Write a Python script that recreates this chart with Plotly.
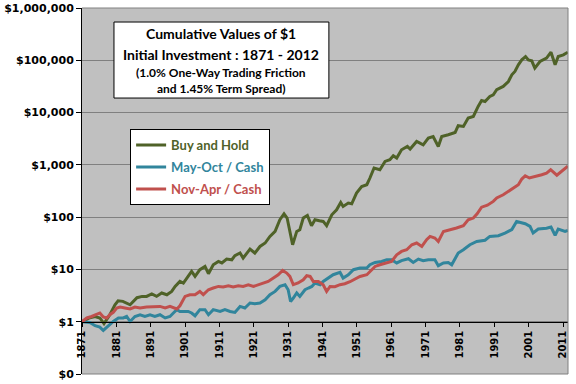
import plotly.graph_objects as go

# ---------------- data ----------------
bh_years = [1871.0, 1873.3, 1874.8, 1876.2, 1877.4, 1879.1, 1880.6, 1881.5, 1882.9, 1885.0,
            1887.0, 1888.5, 1889.8, 1891.3, 1892.7, 1894.2, 1895.7, 1897.1, 1898.1, 1899.5,
            1900.5, 1901.5, 1902.9, 1903.9, 1905.3, 1906.8, 1907.8, 1909.2, 1910.7, 1911.7,
            1913.1, 1914.6, 1915.5, 1917.0, 1917.9, 1919.9, 1921.3, 1922.8, 1924.3, 1925.7,
            1927.2, 1928.6, 1929.8, 1930.7, 1931.5, 1932.3, 1933.5, 1934.4, 1935.4, 1936.6,
            1937.8, 1938.8, 1940.1, 1941.2, 1942.2, 1943.7, 1945.1, 1946.3, 1947.0, 1948.5,
            1949.5, 1950.9, 1952.4, 1953.9, 1954.8, 1956.0, 1957.7, 1959.2, 1960.6, 1961.6,
            1962.6, 1964.0, 1965.7, 1966.5, 1968.4, 1970.3, 1971.8, 1973.2, 1974.7, 1975.7,
            1977.6, 1979.6, 1980.5, 1982.0, 1983.4, 1984.9, 1986.3, 1987.3, 1988.3, 1989.7,
            1990.7, 1991.7, 1993.6, 1995.1, 1996.1, 1997.0, 1998.0, 1999.0, 2000.1, 2000.9,
            2001.9, 2002.8, 2004.3, 2006.2, 2007.5, 2008.7, 2009.6, 2011.1, 2012.4]
bh_values = [1.0, 1.19, 1.26, 1.18, 0.92, 1.36, 2.11, 2.52, 2.45, 2.11,
             2.88, 3.05, 3.05, 3.39, 3.05, 3.54, 3.28, 3.80, 4.73, 5.90,
             5.50, 6.85, 9.16, 7.35, 9.87, 11.4, 8.28, 12.3, 14.2, 13.3,
             15.8, 15.3, 18.3, 20.6, 16.5, 24.5, 20.6, 27.5, 32.0, 42.8,
             53.3, 89.2, 116, 96, 49.7, 29.7, 53.3, 57.4, 96, 108,
             68.5, 89.2, 85.4, 82.8, 68.5, 111, 138, 191, 160, 186,
             180, 289, 386, 417, 560, 869, 806, 1162, 1253, 1494,
             1350, 1945, 2250, 2005, 2800, 2420, 3250, 3490, 2250, 3490,
             3765, 4170, 5600, 5420, 7850, 8420, 13100, 17000, 16300, 20300,
             21900, 27300, 31600, 39300, 52800, 61100, 82000, 102000, 118000, 102000,
             97800, 71000, 94800, 110000, 143000, 82000, 118000, 127000, 143000]

mo_years = [1871.0, 1873.3, 1874.8, 1876.2, 1877.2, 1878.7, 1880.1, 1881.6, 1883.0, 1884.0,
            1885.0, 1886.4, 1887.9, 1889.3, 1890.8, 1892.2, 1893.7, 1895.2, 1896.6, 1897.6,
            1898.6, 1899.5, 1901.0, 1901.9, 1902.9, 1903.9, 1905.3, 1906.8, 1907.8, 1909.2,
            1911.2, 1912.6, 1914.1, 1915.5, 1917.0, 1918.4, 1919.9, 1921.3, 1922.8, 1924.3,
            1925.7, 1927.2, 1928.6, 1930.1, 1931.0, 1931.7, 1932.5, 1933.5, 1934.4, 1935.9,
            1936.9, 1937.9, 1938.8, 1940.3, 1941.2, 1942.7, 1943.2, 1944.1, 1946.1, 1947.0,
            1948.5, 1950.0, 1951.9, 1953.9, 1954.8, 1956.3, 1958.2, 1959.7, 1961.1, 1962.6,
            1964.0, 1966.0, 1967.4, 1968.9, 1970.3, 1971.8, 1973.7, 1974.7, 1976.2, 1977.6,
            1978.6, 1980.5, 1982.0, 1983.9, 1985.9, 1988.3, 1989.7, 1992.2, 1994.1, 1996.1,
            1997.5, 1998.5, 2000.0, 2001.4, 2002.3, 2003.8, 2006.2, 2007.5, 2008.7, 2009.6,
            2011.6, 2012.4]
mo_values = [1.0, 0.97, 0.84, 0.79, 0.68, 0.84, 1.01, 1.18, 1.18, 1.26,
             1.01, 1.26, 1.36, 1.26, 1.36, 1.26, 1.36, 1.18, 1.26, 1.47,
             1.70, 1.57, 1.57, 1.57, 1.47, 1.30, 1.70, 1.70, 1.36, 1.70,
             1.57, 1.70, 1.57, 1.51, 1.96, 1.83, 2.28, 2.21, 2.28, 2.63,
             3.28, 3.80, 4.73, 5.10, 4.09, 2.44, 2.84, 3.54, 3.05, 4.09,
             4.41, 4.73, 5.50, 5.10, 5.90, 6.85, 7.35, 7.92, 8.77, 6.85,
             7.92, 9.87, 10.6, 10.6, 12.3, 13.6, 14.2, 15.3, 15.3, 13.3,
             14.7, 16.0, 13.6, 15.8, 14.7, 15.3, 15.3, 11.8, 13.3, 13.6,
             12.3, 20.6, 23.8, 29.7, 34.3, 36.2, 42.8, 44.1, 49.7, 57.9,
             82.8, 79.2, 74.8, 66.4, 49.7, 59.2, 61.3, 64.7, 45.1, 59.2,
             53.3, 55.7]

na_years = [1871.0, 1872.4, 1873.8, 1875.3, 1876.2, 1877.2, 1878.2, 1879.1, 1880.1, 1881.1,
            1882.1, 1883.5, 1885.0, 1886.4, 1887.9, 1889.8, 1891.8, 1893.7, 1895.2, 1896.6,
            1898.6, 1899.5, 1901.0, 1902.4, 1903.9, 1905.3, 1906.3, 1907.8, 1909.2, 1910.7,
            1912.1, 1913.6, 1915.0, 1916.5, 1917.9, 1919.4, 1920.9, 1922.3, 1923.8, 1925.2,
            1926.7, 1928.1, 1929.4, 1930.6, 1931.5, 1932.5, 1933.9, 1935.4, 1936.4, 1937.4,
            1938.3, 1939.8, 1941.2, 1942.2, 1943.2, 1944.6, 1946.1, 1947.5, 1949.0, 1950.0,
            1951.9, 1953.9, 1955.3, 1956.3, 1957.7, 1959.7, 1961.1, 1962.6, 1964.0, 1965.5,
            1967.0, 1968.4, 1969.9, 1971.3, 1972.3, 1973.7, 1974.7, 1976.2, 1977.6, 1980.0,
            1982.0, 1983.4, 1984.9, 1986.0, 1987.3, 1989.0, 1990.7, 1991.7, 1993.6, 1995.1,
            1996.5, 1998.0, 1999.0, 2000.0, 2001.2, 2002.8, 2004.8, 2006.2, 2007.4, 2009.2,
            2010.6, 2012.4]
na_values = [1.0, 1.18, 1.26, 1.36, 1.47, 1.23, 1.18, 1.36, 1.51, 1.83,
             1.91, 1.83, 1.75, 1.91, 1.83, 1.91, 1.91, 1.96, 1.83, 1.96,
             1.75, 2.02, 3.05, 3.28, 3.28, 3.80, 3.30, 4.09, 4.41, 4.73,
             4.60, 4.88, 4.60, 4.88, 4.73, 5.10, 4.73, 5.10, 5.50, 5.90,
             6.85, 7.92, 9.57, 8.53, 7.35, 5.10, 5.50, 6.35, 7.58, 7.35,
             5.90, 5.90, 5.10, 3.80, 4.73, 4.67, 5.10, 5.33, 5.82, 6.35,
             7.35, 7.92, 9.87, 11.4, 12.3, 13.3, 14.2, 19.1, 22.1, 23.8,
             29.7, 32.0, 27.5, 37.0, 42.8, 39.9, 34.3, 53.3, 55.7, 61.9,
             68.5, 89.2, 96, 116, 155, 169, 200, 232, 268, 310,
             360, 417, 535, 619, 560, 592, 647, 697, 806, 633,
             764, 948]

series_names = ["Buy and Hold", "May-Oct / Cash", "Nov-Apr / Cash"]
series_colors = ["#4F6228", "#31859C", "#C0504D"]

x_ticks = list(range(1871, 2012, 10))
y_tickvals = [0.1, 1, 10, 100, 1000, 10000, 100000, 1000000]
y_ticktext = ["$0", "$1", "$10", "$100", "$1,000", "$10,000", "$100,000", "$1,000,000"]

title_lines = ["Cumulative Values of $1", "Initial Investment : 1871 - 2012",
               "(1.0% One-Way Trading Friction", "and 1.45% Term Spread)"]

# ---------------- figure ----------------
fig = go.Figure()
for i, (xs, ys) in enumerate([(bh_years, bh_values), (mo_years, mo_values), (na_years, na_values)]):
    fig.add_trace(go.Scatter(
        x=xs, y=ys, mode="lines", name=f"<span style='color:{series_colors[i]}'>{series_names[i]}</span>",
        line=dict(color=series_colors[i], width=3), legendgroup=f"g{i}"))

tick_font = dict(family="DejaVu Sans", size=11, color="black", weight="bold")

fig.update_layout(
    width=576, height=384,
    margin=dict(l=82, r=8, t=8, b=10, autoexpand=False),
    paper_bgcolor="white", plot_bgcolor="#C0C0C0",
    showlegend=True,
    legend=dict(x=0.099, y=0.669, xanchor="left", yanchor="top",
                bgcolor="white", bordercolor="black", borderwidth=1,
                font=dict(family="Lato", size=13, weight="bold"),
                tracegroupgap=2, traceorder="grouped"),
    xaxis=dict(range=[1871, 2012.45], tickvals=x_ticks, ticktext=[str(t) for t in x_ticks],
               tickangle=-90, ticks="outside", ticklen=4, tickcolor="black",
               showline=True, linecolor="black", linewidth=1, showgrid=False, zeroline=False,
               anchor="free", position=1/7, automargin=False,
               tickfont=dict(family="DejaVu Sans", size=10, color="black", weight="bold")),
    yaxis=dict(type="log", range=[-1, 6], tickvals=y_tickvals, ticktext=y_ticktext,
               ticks="outside", ticklen=5, tickcolor="black",
               showline=True, linecolor="black", linewidth=1,
               showgrid=True, gridcolor="#808080", gridwidth=1, automargin=False,
               tickfont=tick_font),
)

# plot border (top, right, bottom)
for (x0, y0, x1, y1) in [(0, 1, 1, 1), (1, 0, 1, 1), (0, 0, 1, 0)]:
    fig.add_shape(type="line", xref="paper", yref="paper", x0=x0, y0=y0, x1=x1, y1=y1,
                  line=dict(color="#808080", width=1), layer="above")

# title box
fig.add_shape(type="rect", xref="paper", yref="paper", x0=0.0658, x1=0.508, y0=0.754, y1=0.9617,
              fillcolor="white", line=dict(color="black", width=1), layer="above")
line_y = [0.929, 0.874, 0.825, 0.781]
line_size = [14, 14, 12, 12]
for t, yy, sz in zip(title_lines, line_y, line_size):
    fig.add_annotation(text=t, xref="paper", yref="paper", x=0.287, y=yy,
                       xanchor="center", yanchor="middle", showarrow=False,
                       font=dict(family="Lato", size=sz, color="black", weight="bold"))

fig.write_html("out.html", config={"displayModeBar": False},
               post_script="document.body.style.margin='0';")
